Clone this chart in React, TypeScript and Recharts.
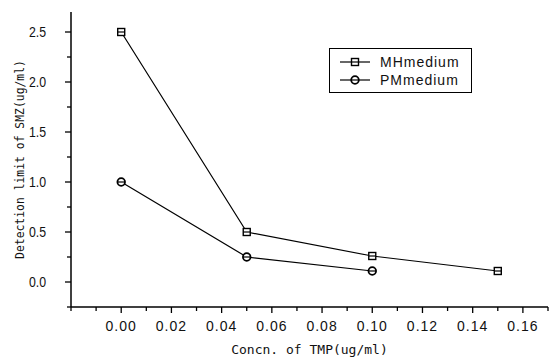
import { LineChart, Line, XAxis, YAxis } from "recharts"

const mhConc = [0, 0.05, 0.1, 0.15]
const mhLimit = [2.5, 0.5, 0.26, 0.11]
const pmConc = [0, 0.05, 0.1]
const pmLimit = [1.0, 0.25, 0.11]

const xMajor = [0, 0.02, 0.04, 0.06, 0.08, 0.1, 0.12, 0.14, 0.16]
const xMinor = [-0.02, -0.01, 0.01, 0.03, 0.05, 0.07, 0.09, 0.11, 0.13, 0.15, 0.17]
const yMajor = [0, 0.5, 1.0, 1.5, 2.0, 2.5]
const yMinor = [-0.25, 0.25, 0.75, 1.25, 1.75, 2.25]

const seriesNames = ["MHmedium", "PMmedium"]

const mhData = mhConc.map((x, i) => ({ x, y: mhLimit[i] }))
const pmData = pmConc.map((x, i) => ({ x, y: pmLimit[i] }))

const isMajor = (list: number[], v: number) => list.some((m) => Math.abs(m - v) < 1e-9)

function SquareDot({ cx, cy }: any) {
    if (cx == null || cy == null) return null
    return (
        <g>
            <rect x={cx - 3.5} y={cy - 3.5} width={7} height={7} fill="#fff" stroke="#000" strokeWidth={1.4} />
            <line x1={cx - 3.5} x2={cx + 3.5} y1={cy} y2={cy} stroke="#000" strokeWidth={1.2} />
        </g>
    )
}

function CircleDot({ cx, cy }: any) {
    if (cx == null || cy == null) return null
    return (
        <g>
            <circle cx={cx} cy={cy} r={3.8} fill="#fff" stroke="#000" strokeWidth={1.8} />
            <line x1={cx - 3.8} x2={cx + 3.8} y1={cy} y2={cy} stroke="#000" strokeWidth={1.2} />
        </g>
    )
}

function XTick({ x, y, payload }: any) {
    const major = isMajor(xMajor, payload.value)
    return (
        <g>
            <line x1={x} x2={x} y1={y} y2={y + (major ? 6 : 4)} stroke="#000" strokeWidth={1.3} />
            {major && (
                <text x={x} y={y + 24} textAnchor="middle" fontSize={14} letterSpacing={1} fill="#111"
                    fontFamily="Liberation Sans, Arial, sans-serif">
                    {payload.value.toFixed(2)}
                </text>
            )}
        </g>
    )
}

function YTick({ x, y, payload }: any) {
    const major = isMajor(yMajor, payload.value)
    return (
        <g>
            <line x1={x} x2={x - (major ? 6 : 4)} y1={y} y2={y} stroke="#000" strokeWidth={1.3} />
            {major && (
                <text transform={`translate(${x - 25},${y + 5}) scale(0.85,1)`} textAnchor="end" fontSize={14.5} fill="#111"
                    fontFamily="Liberation Sans, Arial, sans-serif">
                    {payload.value.toFixed(1)}
                </text>
            )}
        </g>
    )
}

function LegendBox() {
    const marks = [SquareDot, CircleDot]
    return (
        <div style={{
            position: "absolute", left: 329, top: 48, width: 143, height: 45, boxSizing: "border-box",
            border: "1.3px solid #000", background: "#fff",
        }}>
            {seriesNames.map((name, i) => {
                const Mark = marks[i]
                return (
                    <div key={name} style={{ display: "flex", alignItems: "center", height: 18, marginTop: i === 0 ? 4 : 0 }}>
                        <svg width={50} height={14}>
                            <line x1={10} x2={40} y1={7} y2={7} stroke="#000" strokeWidth={1.2} />
                            <Mark cx={25} cy={7} />
                        </svg>
                        <span style={{ fontFamily: "Liberation Sans, Arial, sans-serif", fontSize: 14, letterSpacing: 1, color: "#111" }}>
                            {name}
                        </span>
                    </div>
                )
            })}
        </div>
    )
}

export default function App() {
    return (
        <div style={{ position: "absolute", left: 0, top: 0, width: 555, height: 358, background: "#fff" }}>
            <LineChart width={555} height={358} margin={{ top: 12, right: 7, bottom: 0, left: 0 }}>
                <XAxis
                    type="number"
                    dataKey="x"
                    domain={[-0.02, 0.17]}
                    ticks={[...xMinor, ...xMajor].sort((a, b) => a - b)}
                    tick={<XTick />}
                    tickLine={false}
                    tickSize={0}
                    tickMargin={0}
                    interval={0}
                    height={51}
                    allowDataOverflow
                    axisLine={{ stroke: "#000", strokeWidth: 1.5 }}
                    label={{
                        value: "Concn. of TMP(ug/ml)",
                        position: "insideBottom",
                        offset: 4,
                        style: { fontFamily: "DejaVu Sans Mono, monospace", fontSize: 13, fill: "#111" },
                    }}
                />
                <YAxis
                    type="number"
                    dataKey="y"
                    domain={[-0.25, 2.7]}
                    ticks={[...yMinor, ...yMajor].sort((a, b) => a - b)}
                    tick={<YTick />}
                    tickLine={false}
                    tickSize={0}
                    tickMargin={0}
                    interval={0}
                    width={71}
                    allowDataOverflow
                    axisLine={{ stroke: "#000", strokeWidth: 1.5 }}
                    label={{
                        value: "Detection limit of SMZ(ug/ml)",
                        angle: -90,
                        position: "insideLeft",
                        offset: 20,
                        style: { fontFamily: "DejaVu Sans Mono, monospace", fontSize: 11.4, fill: "#111", textAnchor: "middle" },
                    }}
                />
                <Line
                    data={mhData}
                    dataKey="y"
                    name={seriesNames[0]}
                    stroke="#000"
                    strokeWidth={1.2}
                    dot={<SquareDot />}
                    isAnimationActive={false}
                />
                <Line
                    data={pmData}
                    dataKey="y"
                    name={seriesNames[1]}
                    stroke="#000"
                    strokeWidth={1.2}
                    dot={<CircleDot />}
                    isAnimationActive={false}
                />
            </LineChart>
            <LegendBox />
        </div>
    )
}
